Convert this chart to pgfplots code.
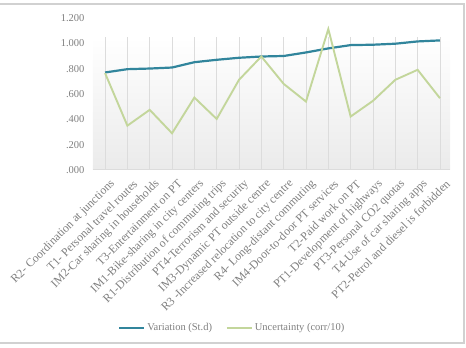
\documentclass[border=0pt]{standalone}
\usepackage{pgfplots}
\pgfplotsset{compat=1.18}
\usepackage{fontspec}
\setmainfont{Liberation Serif}
\definecolor{teal1}{HTML}{31859C}
\definecolor{olive1}{HTML}{C3D69B}
\definecolor{txt}{HTML}{7F7F7F}
\definecolor{grid1}{HTML}{DCDCDC}
\pgfplotstableread{
x var unc
1 0.770 0.765
2 0.796 0.350
3 0.801 0.475
4 0.809 0.290
5 0.851 0.572
6 0.870 0.403
7 0.886 0.712
8 0.896 0.896
9 0.900 0.680
10 0.928 0.540
11 0.960 1.113
12 0.986 0.422
13 0.989 0.546
14 0.997 0.712
15 1.015 0.791
16 1.023 0.567
}\datatable
\begin{document}
\begin{tikzpicture}
\path[use as bounding box] (0pt,0pt) rectangle (466pt,348pt);
\draw[color=black!18, line width=1.2pt] (0pt,344pt) -- (464pt,344pt) -- (464pt,5pt) -- (0pt,5pt);
\begin{axis}[at={(93pt,178pt)}, anchor=south west, scale only axis,
 width=357pt, height=152pt,
 xmin=0.46, xmax=16.45, ymin=0, ymax=1.2,
 axis line style={draw=none}, tick style={draw=none},
 xtick={1,...,16},
 xticklabels={R2- Coordination at junctions, T1- Personal travel routes, IM2-Car sharing in households, T3-Entertainment on PT, IM1-Bike-sharing in city centers, R1-Distribution of commuting trips, PT4-Terrorism and security, IM3-Dynamic PT outside centre, R3 -Increased relocation to city centre, R4- Long-distant commuting, IM4-Door-to-door PT services, T2-Paid work on PT, PT1-Development of  highways, PT3-Personal CO2 quotas, T4-Use of car sharing apps, PT2-Petrol and diesel is forbidden},
 ytick={0,0.2,0.4,0.6,0.8,1.0,1.2},
 yticklabels={.000,.200,.400,.600,.800,1.000,1.200},
 ticklabel style={font=\fontsize{10.5}{12}\selectfont, text=txt},
 xticklabel style={font=\fontsize{11.8}{13}\selectfont, xshift=8pt, yshift=-12pt, rotate=45, anchor=east, inner sep=0pt},
 yticklabel style={xshift=-5pt},
 clip=false,
 legend columns=2,
 legend style={draw=none, fill=none, at={(0.39,-1.04)}, anchor=center,
   font=\fontsize{10.5}{12}\selectfont, text=txt,
   /tikz/every even column/.append style={column sep=12pt}},
 legend image code/.code={\draw[#1] (0pt,0pt) -- (25pt,0pt);},
]
\fill[top color=white, bottom color=black!8] (axis cs:0.46,0) rectangle (axis cs:16.45,1.05);
\pgfplotsinvokeforeach{1,...,16}{\draw[grid1, line width=0.8pt] (axis cs:#1,0) -- (axis cs:#1,1.05);}
\draw[grid1, line width=1pt] (axis cs:0.46,0) -- (axis cs:16.45,0);
\addplot[teal1, line width=2.2pt] table[x=x, y=var] {\datatable};
\addlegendentry{Variation (St.d)}
\addplot[olive1, line width=1.9pt] table[x=x, y=unc] {\datatable};
\addlegendentry{Uncertainty (corr/10)}
\end{axis}
\end{tikzpicture}
\end{document}
